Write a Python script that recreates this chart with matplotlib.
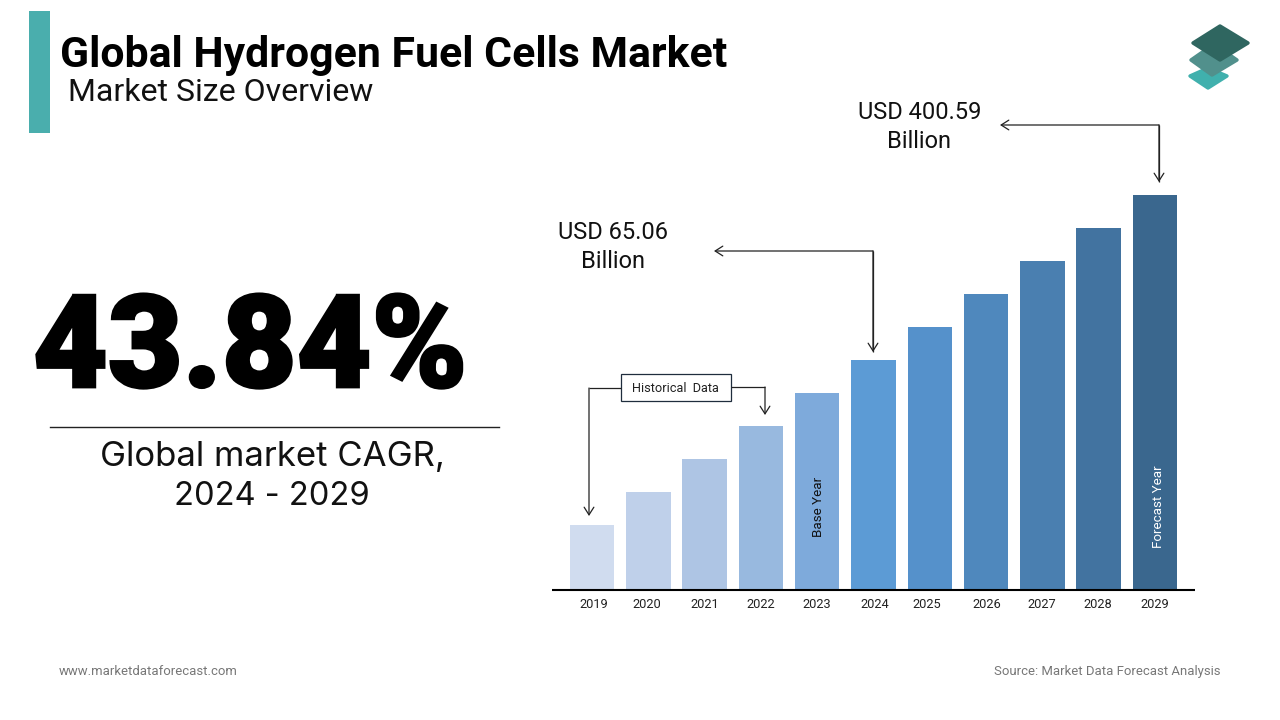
# Global hydrogen fuel cells market size overview slide

import matplotlib
matplotlib.use('Agg')
import matplotlib.pyplot as plt
import matplotlib.patheffects as pe
from matplotlib.patches import Polygon, Rectangle

years = [2019, 2020, 2021, 2022, 2023, 2024, 2025, 2026, 2027, 2028, 2029]
# bars are illustrative, values are their heights read off the picture
bar_heights = [65, 98, 131, 164, 197, 230, 263, 296, 329, 362, 395]
bar_colors = ['#d0dcef', '#bfd0ea', '#aec5e4', '#98b9df', '#7eaadb', '#5c9bd5',
              '#5591cb', '#4f88bd', '#4a7fb0', '#4273a0', '#3a678e']
tick_offsets = [2, -1, 0, 0, 0, 1, -3, 1, -1, -1, 0]

W, H = 1280, 720


def main():

    fig = plt.figure(figsize=(12.8, 7.2), dpi=100)

    # bar chart, axes placed on the pixel grid of the slide
    ax = fig.add_axes([552/W, 1-590/H, (1195-552)/W, 420/H])
    ax.bar(years, bar_heights, width=0.79, color=bar_colors, zorder=2)
    ax.set_xlim(2019-40/56.3, 2029+40/56.3)
    ax.set_ylim(0, 420)
    for s in ['top', 'left', 'right']:
        ax.spines[s].set_visible(False)
    ax.spines['bottom'].set_linewidth(1.5)
    ax.spines['bottom'].set_capstyle('butt')
    ax.set_yticks([])
    ax.set_xticks([])
    ax.patch.set_alpha(0)

    # everything else drawn in slide pixels
    ov = fig.add_axes([0, 0, 1, 1], zorder=5)
    ov.set_xlim(0, W)
    ov.set_ylim(H, 0)
    ov.axis('off')

    px_per_year = (1195-552)/(10+80/56.3)
    for yr, off in zip(years, tick_offsets):
        x = 592 + (yr-2019)*px_per_year + off
        ov.text(x, 608, str(yr), ha='center', va='baseline', fontsize=9.2,
                family='Roboto', color='#222222')

    ov.add_patch(Rectangle((29, 11), 21, 122, color='#4aaead', lw=0))
    ov.text(60, 67, 'Global Hydrogen Fuel Cells Market', fontsize=30.8,
            family='Roboto', weight='bold', color='black')
    ov.text(68, 101, 'Market Size Overview', fontsize=23.05, family='Roboto', color='#111111')

    # stroke thickens the bold face towards the heavier original
    ov.text(250, 387, '43.84%', ha='center', fontsize=93, family='Roboto',
            weight=900, color='black',
            path_effects=[pe.withStroke(linewidth=2, foreground='black', joinstyle='miter')])
    ov.plot([50, 499], [427, 427], color='#222222', lw=1)
    ov.text(272, 466, 'Global market CAGR,', ha='center', fontsize=25,
            family='Inter', color='#111111')
    ov.text(272, 505, '2024 - 2029', ha='center', fontsize=23.5,
            family='Inter', color='#111111')

    for x, y0, txt, xb in [(920, 119, 'USD 400.59', 919), (613, 239, 'USD 65.06', 613)]:
        ov.text(x, y0, txt, ha='center', fontsize=17, family='Roboto', color='#111111')
        ov.text(xb, y0+29, 'Billion', ha='center', fontsize=17, family='Roboto', color='#111111')

    # elbow arrows
    def elbow(pts):
        xs = [p[0] for p in pts[:-1]]
        ys = [p[1] for p in pts[:-1]]
        ov.plot(xs, ys, color='#222222', lw=0.9, solid_capstyle='butt')
        ov.annotate('', xy=pts[-1], xytext=pts[-2],
                    arrowprops=dict(arrowstyle='->,head_length=0.55,head_width=0.35',
                                    color='#222222', lw=0.9, shrinkA=0, shrinkB=0))

    elbow([(621, 388), (589, 388), (589, 516)])
    elbow([(731, 387), (765, 387), (765, 415)])
    elbow([(873, 352), (873, 251), (714, 251)])
    elbow([(873, 251), (873, 352)])
    elbow([(1159, 182), (1159, 125), (1000, 125)])
    elbow([(1159, 125), (1159, 182)])

    ov.add_patch(Rectangle((621, 374), 110, 27, fc='white', ec='#1f2d3d', lw=0.9))
    ov.text(675.5, 388, 'Historical  Data', ha='center', va='center', fontsize=9.2,
            family='Roboto', color='#222222')

    ov.text(819, 507, 'Base Year', rotation=90, ha='center', va='center', fontsize=9.6,
            family='Roboto', color='#111111')
    ov.text(1158, 507, 'Forecast Year', rotation=90, ha='center', va='center', fontsize=9.6,
            family='Roboto', color='white')

    ov.text(59, 675, 'www.marketdataforecast.com', fontsize=9.42, family='Roboto', color='#777777')
    ov.text(1221, 675, 'Source: Market Data Forecast Analysis', ha='right', fontsize=9.45,
            family='Roboto', color='#777777')

    # logo, inset a little so the thick round edge gives the soft corners
    logo = [([(1208, 68), (1227, 76), (1208, 88), (1190, 76)], '#40b0ad'),
            ([(1214, 44), (1237, 60), (1212, 75), (1191, 60)], '#51908c'),
            ([(1220, 26), (1248, 43), (1220, 60), (1193, 43)], '#2f6660')]
    for pts, c in logo:
        ov.add_patch(Polygon(pts, closed=True, fc=c, ec=c, lw=2.5, joinstyle='round'))

    fig.savefig('out.png', dpi=100)


if __name__ == "__main__":
    main()
